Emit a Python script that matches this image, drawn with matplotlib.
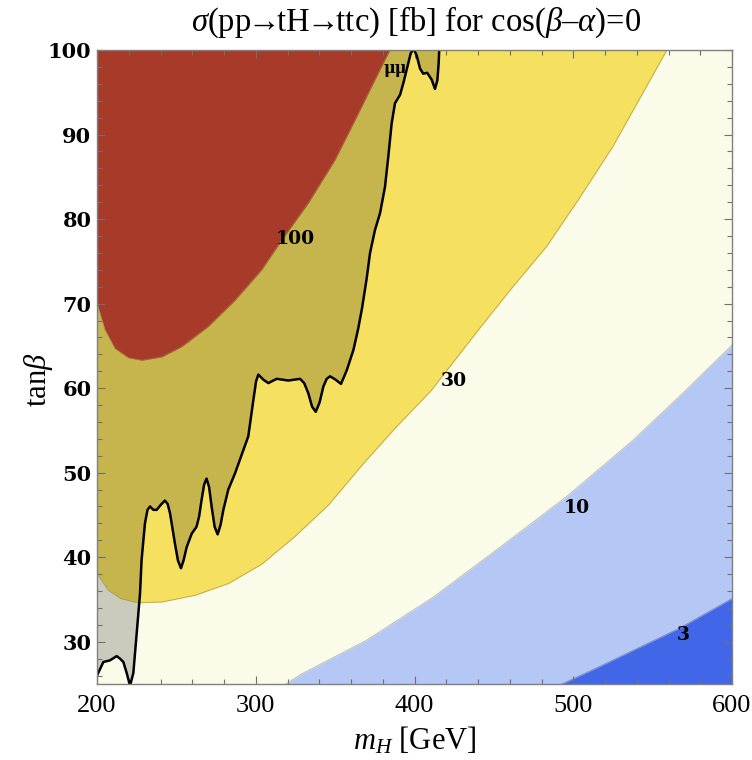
import matplotlib
matplotlib.use("Agg")
import matplotlib.pyplot as plt
from matplotlib.ticker import MultipleLocator

# STEP 1: contour boundaries of sigma(pp -> tH -> ttc) in the (m_H, tan beta) plane
sig100_x = [200, 205, 211.3, 219.7, 228.2, 240.8, 253.3, 270.1, 286.9, 303.7, 316.3, 333.1, 349.9, 362.5, 375.1, 384.5]
sig100_y = [70.0, 66.9, 64.7, 63.6, 63.3, 63.7, 64.9, 67.3, 70.4, 74.0, 77.5, 81.9, 87.0, 91.7, 96.5, 100]

sig30_x = [200, 207, 215, 226, 241, 262, 283, 304, 325, 346, 367, 388, 410, 420, 442, 462, 483, 504, 525, 545, 559]
sig30_y = [38.1, 36.1, 35.1, 34.6, 34.7, 35.5, 36.9, 39.2, 42.5, 46.2, 50.9, 55.3, 59.6, 62.0, 67.3, 72.0, 76.7, 82.5, 88.6, 95.3, 100]

sig10_x = [319, 328, 370, 412, 454, 496, 538, 569, 600]
sig10_y = [25, 26.1, 30.2, 35.3, 41.2, 47.2, 53.9, 59.4, 65.1]

sig3_x = [493, 517, 538, 567, 600]
sig3_y = [25, 27.1, 29.0, 31.6, 35.1]

# mu mu search limit (excluded to the upper left)
mumu_x = [200, 204, 208.2, 212.4, 214.5, 216.6, 218.7, 220.8, 222.9, 225, 227.1, 228.1, 230.2, 231.8,
          233.4, 235.5, 237.6, 240.2, 242.8, 244.5, 246, 249.1, 251, 252.9, 254.5, 256.5, 259.7, 262.7,
          264.3, 265.9, 267.5, 269, 270.6, 272.2, 274.1, 276, 277.8, 279.6, 282.7, 286.9, 291.1, 295.3,
          298.5, 300.2, 301.6, 304.8, 307.9, 313.2, 320.5, 327.9, 330.5, 333.1, 335.5, 337.8, 340.2,
          342.6, 344.7, 346.8, 350.3, 353.7, 357.3, 361.5, 364.5, 367, 369.9, 372, 375.1, 378.3, 381.4,
          383.5, 385.6, 387.7, 390.9, 393, 395.5, 397.6, 398.7, 399.7, 401.3, 403.5, 405.5, 408, 410.8,
          412.9, 414.4, 415.2, 415.6]
mumu_y = [26.0, 27.6, 27.8, 28.3, 28.0, 27.6, 26.3, 24.8, 26.3, 31.0, 35.7, 39.7, 44.0, 45.6,
          46.0, 45.6, 45.6, 46.2, 46.7, 46.3, 45.2, 41.6, 39.6, 38.7, 39.6, 41.2, 42.8, 43.6,
          44.8, 46.8, 48.6, 49.3, 48.3, 46.0, 43.6, 42.7, 43.8, 45.6, 48.0, 49.9, 52.1, 54.3,
          58.6, 60.8, 61.6, 61.0, 60.6, 61.1, 60.9, 61.1, 60.6, 59.4, 57.8, 57.2, 58.3,
          60.2, 61.1, 61.4, 61.0, 60.5, 62.1, 64.5, 67.0, 69.5, 73.0, 76.0, 78.7, 80.7, 83.8,
          87.4, 91.3, 93.7, 94.7, 96.1, 98.0, 99.6, 99.95, 100.0, 99.4, 97.8, 97.2, 97.3, 96.5,
          95.4, 96.4, 98.4, 100.1]

# contour labels
label_text = ["100", "30", "10", "3"]
label_x = [324.7, 424.7, 502.2, 569.3]
label_y = [77.7, 60.8, 45.8, 30.8]

# STEP 2: fonts
plt.rcParams["font.family"] = ["Liberation Serif", "DejaVu Serif"]
plt.rcParams["mathtext.fontset"] = "custom"
plt.rcParams["mathtext.rm"] = "Liberation Serif"
plt.rcParams["mathtext.it"] = "Liberation Serif:italic"
plt.rcParams["mathtext.bf"] = "Liberation Serif:bold"

fig = plt.figure(figsize=(7.52, 7.60), dpi=100)
ax = fig.add_axes([97 / 752, 1 - 684 / 760, 635 / 752, 634 / 760])
ax.set_facecolor("#FBFBEA")

# STEP 3: filled bands
edge = dict(color="#9c8a4a", lw=0.7, alpha=0.6)
ax.fill_between(sig30_x, sig30_y, 100, color="#F5E060", lw=0)
ax.plot(sig30_x, sig30_y, **edge)
ax.fill_between(sig100_x, sig100_y, 100, color="#CF4834", lw=0)
ax.plot(sig100_x, sig100_y, **edge)
ax.fill_between(sig10_x, 25, sig10_y, color="#B5C7F5", lw=0)
ax.plot(sig10_x, sig10_y, color="#8f9a9a", lw=0.7, alpha=0.6)
ax.fill_between(sig3_x, 25, sig3_y, color="#4266E8", lw=0)
ax.plot(sig3_x, sig3_y, color="#5060a0", lw=0.7, alpha=0.6)

# excluded region shaded on top
ax.fill(mumu_x + [200], mumu_y + [100], color="black", alpha=0.19, lw=0)
ax.plot(mumu_x, mumu_y, color="black", lw=1.8, solid_joinstyle="round")

for t, x, y in zip(label_text, label_x, label_y):
    ax.text(x, y, t, ha="center", va="center", fontsize=13.5,
            fontweight="bold", family="DejaVu Serif")
ax.text(387.7, 97.8, "\u03bc\u03bc", ha="center", va="center", fontsize=11.5,
        fontweight="bold", family="DejaVu Serif")

# STEP 4: axes
ax.set_xlim(200, 600)
ax.set_ylim(25, 100)
ax.xaxis.set_major_locator(MultipleLocator(100))
ax.xaxis.set_minor_locator(MultipleLocator(20))
ax.yaxis.set_major_locator(MultipleLocator(10))
ax.yaxis.set_minor_locator(MultipleLocator(2))
ax.tick_params(which="both", direction="in", top=True, right=True, color="#707070", width=0.8)
ax.tick_params(which="major", length=6)
ax.tick_params(which="minor", length=3.5)
ax.tick_params(axis="x", labelsize=19, pad=8)
ax.tick_params(axis="y", labelsize=15, pad=4)
for lab in ax.get_yticklabels():
    lab.set_family("DejaVu Serif")
    lab.set_fontweight("bold")
for s in ax.spines.values():
    s.set_color("#808080")
    s.set_linewidth(1.0)

ax.set_xlabel(r"$m_H$ [GeV]", fontsize=22, labelpad=6)
ax.set_ylabel(r"tan$\beta$", fontsize=22)
ax.yaxis.set_label_coords(-0.066, 0.48)
fig.text(416 / 752, 1 - 22 / 760,
         r"$\sigma$(pp$\!\!\rightarrow\!\!$tH$\!\!\rightarrow\!\!$ttc) [fb] for cos($\beta$–$\alpha$)=0",
         ha="center", va="center", fontsize=23.5)

fig.savefig("out.png", dpi=100)
